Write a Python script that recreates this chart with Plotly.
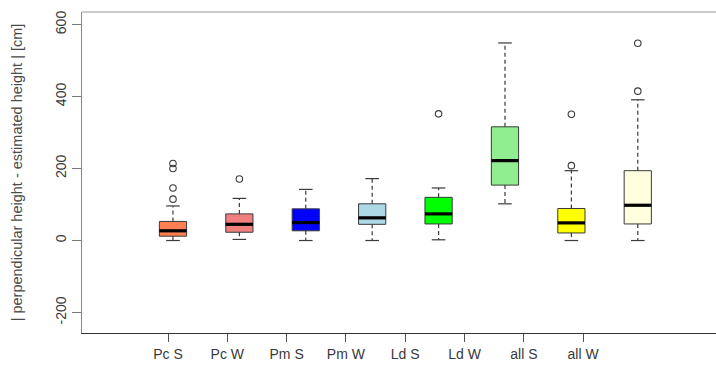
import plotly.graph_objects as go

# Summary statistics per group (cm)
groups = ["Pc S", "Pc W", "Pm S", "Pm W", "Ld S", "Ld W", "all S", "all W"]
lower_whisker = [0, 3, 0, 0, 2, 102, 0, 0]
q1 = [12, 23, 27, 45, 46, 154, 21, 46]
median = [27, 45, 50, 63, 74, 222, 49, 98]
q3 = [53, 74, 88, 102, 120, 316, 89, 194]
upper_whisker = [96, 117, 142, 172, 146, 549, 194, 391]
outliers = [[214, 200, 146, 115], [171], [], [], [352], [], [351, 208], [548, 415]]
fill_colors = ["#FF7F50", "#F08080", "#0000FF", "#ADD8E6",
               "#00FF00", "#90EE90", "#FFFF00", "#FFFFE0"]

y_ticks = [-200, 0, 200, 400, 600]

BOX_W = 0.41
CAP_W = BOX_W / 2
EDGE = "#3a3a3a"
TEXT = "#3a3a3a"
FONT = "Liberation Sans, Arial, sans-serif"

fig = go.Figure()

for i, name in enumerate(groups):
    pos = i + 1
    # box body (Q1..Q3)
    fig.add_trace(go.Box(
        x=[pos], q1=[q1[i]], median=[median[i]], q3=[q3[i]],
        lowerfence=[q1[i]], upperfence=[q3[i]],
        width=BOX_W, whiskerwidth=0,
        fillcolor=fill_colors[i], line=dict(color=EDGE, width=1),
        boxpoints=False, showlegend=False, hoverinfo="skip",
    ))
    # bold median bar
    fig.add_trace(go.Scatter(
        x=[pos - BOX_W / 2, pos + BOX_W / 2], y=[median[i], median[i]],
        mode="lines", line=dict(color="black", width=3.2),
        showlegend=False, hoverinfo="skip",
    ))
    # dashed whiskers
    for a, b in ((q3[i], upper_whisker[i]), (q1[i], lower_whisker[i])):
        fig.add_trace(go.Scatter(
            x=[pos, pos], y=[a, b], mode="lines",
            line=dict(color=EDGE, width=1.2, dash="4px,3px"),
            showlegend=False, hoverinfo="skip",
        ))
    # whisker caps
    for v in (upper_whisker[i], lower_whisker[i]):
        fig.add_trace(go.Scatter(
            x=[pos - CAP_W / 2, pos + CAP_W / 2], y=[v, v], mode="lines",
            line=dict(color=EDGE, width=1.2),
            showlegend=False, hoverinfo="skip",
        ))
    # outlying points
    if outliers[i]:
        fig.add_trace(go.Scatter(
            x=[pos] * len(outliers[i]), y=outliers[i], mode="markers",
            marker=dict(symbol="circle-open", size=6.5,
                        line=dict(color=EDGE, width=1.1), color=EDGE),
            showlegend=False, hoverinfo="skip",
        ))

# invisible trace carrying the category tick axis
fig.add_trace(go.Scatter(
    x=list(range(1, len(groups) + 1)), y=[None] * len(groups),
    xaxis="x2", mode="markers", showlegend=False, hoverinfo="skip",
))

fig.update_layout(
    width=716, height=365,
    margin=dict(l=82, r=0, t=12, b=32),
    paper_bgcolor="white", plot_bgcolor="white",
    font=dict(family=FONT, size=14, color=TEXT),
    xaxis=dict(
        range=[-0.370, 9.178], showticklabels=False, ticks="",
        showgrid=False, zeroline=False,
        showline=True, linecolor="#333333", linewidth=1.2,
    ),
    xaxis2=dict(
        overlaying="x", anchor="y", side="bottom",
        range=[-0.45, 10.24],
        tickmode="array", tickvals=list(range(1, len(groups) + 1)),
        ticktext=groups, ticks="outside", ticklen=8, tickcolor="#555555",
        tickfont=dict(family=FONT, size=14, color=TEXT),
        showgrid=False, zeroline=False, showline=False,
    ),
    yaxis=dict(
        range=[-257, 635], tickmode="array", tickvals=y_ticks,
        ticktext=[str(v) for v in y_ticks], tickangle=-90,
        ticks="outside", ticklen=9, tickcolor="#777777",
        tickfont=dict(family=FONT, size=14, color=TEXT),
        showgrid=False, zeroline=False,
        showline=True, linecolor="#888888", linewidth=1,
        title=dict(text="| perpendicular height - estimated height | [cm]",
                   font=dict(family=FONT, size=14.5, color="#4a4a4a"),
                   standoff=27),
    ),
    shapes=[dict(type="line", xref="paper", yref="paper",
                 x0=0, x1=1, y0=1, y1=1,
                 line=dict(color="#999999", width=1))],
)

fig.write_html("out.html")
